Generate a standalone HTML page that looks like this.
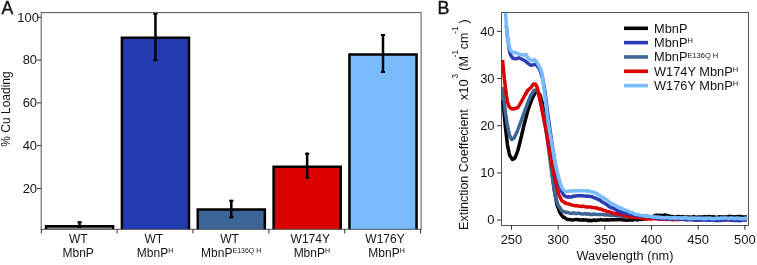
<!DOCTYPE html>
<html><head><meta charset="utf-8"><style>
html,body{margin:0;padding:0;background:#fff;}
svg{display:block;}
text{font-family:"Liberation Sans",sans-serif;font-size:12px;fill:#141414;}
</style></head><body>
<div style="will-change:transform;width:757px;height:265px"><svg width="757" height="265" viewBox="0 0 757 265">
<text x="1.4" y="13.5" style="font-size:17.6px;stroke:#1a1a1a;stroke-width:0.45">A</text>
<text x="437.6" y="13.8" style="font-size:17.8px;stroke:#1a1a1a;stroke-width:0.45">B</text>
<g>
<path d="M46.05,229.5 L46.05,226.15 L113.15,226.15 L113.15,229.5" fill="#8a8a8a" stroke="#000" stroke-width="2.5"/>
<line x1="79.60" y1="221.30" x2="79.60" y2="228.00" stroke="#000" stroke-width="2.5"/>
<line x1="77.50" y1="222.30" x2="81.70" y2="222.30" stroke="#000" stroke-width="2"/>
<line x1="77.50" y1="227.00" x2="81.70" y2="227.00" stroke="#000" stroke-width="2"/>
<path d="M121.90,229.5 L121.90,37.75 L189.00,37.75 L189.00,229.5" fill="#233BB0" stroke="#000" stroke-width="2.5"/>
<line x1="155.45" y1="12.90" x2="155.45" y2="61.10" stroke="#000" stroke-width="2.5"/>
<line x1="153.35" y1="13.90" x2="157.55" y2="13.90" stroke="#000" stroke-width="2"/>
<line x1="153.35" y1="60.10" x2="157.55" y2="60.10" stroke="#000" stroke-width="2"/>
<path d="M197.75,229.5 L197.75,209.55 L264.85,209.55 L264.85,229.5" fill="#3C6496" stroke="#000" stroke-width="2.5"/>
<line x1="231.30" y1="199.80" x2="231.30" y2="218.20" stroke="#000" stroke-width="2.5"/>
<line x1="229.20" y1="200.80" x2="233.40" y2="200.80" stroke="#000" stroke-width="2"/>
<line x1="229.20" y1="217.20" x2="233.40" y2="217.20" stroke="#000" stroke-width="2"/>
<path d="M273.60,229.5 L273.60,166.75 L340.70,166.75 L340.70,229.5" fill="#DA0000" stroke="#000" stroke-width="2.5"/>
<line x1="307.15" y1="152.70" x2="307.15" y2="178.70" stroke="#000" stroke-width="2.5"/>
<line x1="305.05" y1="153.70" x2="309.25" y2="153.70" stroke="#000" stroke-width="2"/>
<line x1="305.05" y1="177.70" x2="309.25" y2="177.70" stroke="#000" stroke-width="2"/>
<path d="M349.45,229.5 L349.45,54.55 L416.55,54.55 L416.55,229.5" fill="#78BCFF" stroke="#000" stroke-width="2.5"/>
<line x1="383.00" y1="34.00" x2="383.00" y2="73.00" stroke="#000" stroke-width="2.5"/>
<line x1="380.90" y1="35.00" x2="385.10" y2="35.00" stroke="#000" stroke-width="2"/>
<line x1="380.90" y1="72.00" x2="385.10" y2="72.00" stroke="#000" stroke-width="2"/>
</g>
<rect x="41.2" y="12.6" width="379.9" height="216.7" fill="none" stroke="#555" stroke-width="1"/>
<line x1="37" y1="188.50" x2="41" y2="188.50" stroke="#333" stroke-width="1"/>
<text x="37.1" y="192.80" text-anchor="end" style="font-size:13px">20</text>
<line x1="37" y1="145.70" x2="41" y2="145.70" stroke="#333" stroke-width="1"/>
<text x="37.1" y="150.00" text-anchor="end" style="font-size:13px">40</text>
<line x1="37" y1="102.90" x2="41" y2="102.90" stroke="#333" stroke-width="1"/>
<text x="37.1" y="107.20" text-anchor="end" style="font-size:13px">60</text>
<line x1="37" y1="60.10" x2="41" y2="60.10" stroke="#333" stroke-width="1"/>
<text x="37.1" y="64.40" text-anchor="end" style="font-size:13px">80</text>
<line x1="37" y1="17.30" x2="41" y2="17.30" stroke="#333" stroke-width="1"/>
<text x="39.0" y="21.60" text-anchor="end" style="font-size:13px">100</text>
<line x1="41.30" y1="229" x2="41.30" y2="233.5" stroke="#333" stroke-width="1"/>
<line x1="117.15" y1="229" x2="117.15" y2="233.5" stroke="#333" stroke-width="1"/>
<line x1="193.00" y1="229" x2="193.00" y2="233.5" stroke="#333" stroke-width="1"/>
<line x1="268.85" y1="229" x2="268.85" y2="233.5" stroke="#333" stroke-width="1"/>
<line x1="344.70" y1="229" x2="344.70" y2="233.5" stroke="#333" stroke-width="1"/>
<line x1="420.55" y1="229" x2="420.55" y2="233.5" stroke="#333" stroke-width="1"/>
<text x="78.3" y="243.1" text-anchor="middle">WT</text>
<text x="78.2" y="257.3" text-anchor="middle">MbnP</text>
<text x="153.75" y="243.1" text-anchor="middle">WT</text>
<text x="155" y="257.3" text-anchor="middle">MbnP<tspan font-size="7" dy="-4.4">H</tspan></text>
<text x="229.6" y="243.1" text-anchor="middle">WT</text>
<text x="231.2" y="257.3" text-anchor="middle">MbnP<tspan font-size="7" dy="-4.4">E136Q H</tspan></text>
<text x="310.25" y="243.1" text-anchor="middle">W174Y</text>
<text x="311.85" y="257.3" text-anchor="middle">MbnP<tspan font-size="7" dy="-4.4">H</tspan></text>
<text x="385.05" y="243.1" text-anchor="middle">W176Y</text>
<text x="386.5" y="257.3" text-anchor="middle">MbnP<tspan font-size="7" dy="-4.4">H</tspan></text>
<text transform="translate(10.2,109) rotate(-90)" text-anchor="middle">% Cu Loading</text>
<rect x="501.5" y="12.5" width="247" height="213" fill="none" stroke="#555" stroke-width="1"/>
<g>
<path d="M503.0,100.0 L504.0,112.0 L505.5,128.0 L507.5,145.0 L509.5,155.0 L512.5,159.5 L515.0,158.0 L518.0,150.0 L521.0,138.0 L524.0,125.0 L528.0,110.0 L532.0,99.0 L535.0,93.0 L537.5,91.5 L540.0,95.0 L542.0,102.0 L545.0,118.0 L548.0,138.0 L551.0,162.0 L554.0,188.0 L557.0,205.0 L560.0,213.0 L563.0,217.0 L564.5,217.5 L566.0,218.8 L568.0,219.5 L570.0,219.6 L571.7,220.0 L573.3,219.9 L575.0,219.6 L576.7,219.6 L578.3,219.7 L580.0,220.0 L581.7,220.0 L583.3,219.8 L585.0,220.1 L586.7,220.0 L588.3,220.7 L590.0,220.3 L591.5,220.7 L593.1,220.3 L594.6,220.0 L596.2,220.6 L597.7,220.0 L599.2,220.0 L600.8,219.6 L602.3,219.9 L603.8,220.0 L605.4,220.0 L606.9,219.7 L608.5,219.9 L610.0,219.9 L611.5,219.5 L613.1,219.7 L614.6,219.6 L616.2,219.8 L617.7,219.5 L619.2,219.5 L620.8,219.8 L622.3,219.7 L623.8,220.0 L625.4,220.0 L626.9,220.2 L628.5,220.1 L630.0,220.0 L631.5,220.1 L633.0,220.1 L634.5,219.6 L636.0,219.4 L637.5,219.9 L639.0,219.1 L640.5,219.5 L642.0,219.3 L643.5,218.7 L645.0,219.0 L646.7,218.7 L648.3,218.2 L650.0,217.4 L651.7,216.9 L653.3,216.4 L655.0,215.5 L656.7,215.1 L658.3,215.4 L660.0,215.3 L661.7,215.5 L663.3,215.4 L665.0,215.0 L666.7,215.6 L668.3,215.7 L670.0,216.4 L671.7,216.5 L673.3,216.8 L675.0,217.0 L676.6,216.8 L678.1,216.6 L679.7,216.7 L681.2,216.9 L682.8,216.6 L684.4,217.3 L685.9,217.1 L687.5,217.1 L689.1,217.1 L690.6,217.2 L692.2,217.0 L693.8,216.6 L695.3,217.3 L696.9,217.2 L698.4,217.0 L700.0,217.0 L701.5,217.0 L703.0,217.1 L704.5,216.6 L706.1,217.2 L707.6,216.7 L709.1,216.6 L710.6,216.7 L712.1,217.2 L713.6,216.7 L715.2,217.2 L716.7,217.4 L718.2,216.9 L719.7,216.8 L721.2,216.9 L722.7,217.1 L724.3,217.1 L725.8,217.0 L727.3,217.0 L728.8,216.5 L730.3,216.6 L731.8,216.6 L733.4,217.1 L734.9,216.7 L736.4,216.9 L737.9,216.4 L739.4,216.4 L740.9,216.6 L742.5,217.0 L744.0,217.0 L745.5,217.0 L747.0,216.8" fill="none" stroke="#000000" stroke-width="3.5" stroke-linejoin="round" stroke-linecap="butt"/>
<path d="M502.8,87.0 L504.0,100.0 L505.5,113.0 L507.5,126.0 L509.5,135.0 L511.7,139.5 L514.0,138.0 L517.0,132.0 L520.0,124.0 L524.0,113.0 L528.0,102.0 L531.0,95.0 L534.0,90.5 L536.0,90.0 L538.0,92.5 L540.0,99.0 L543.0,112.0 L546.0,130.0 L549.0,152.0 L552.0,175.0 L555.0,195.0 L558.0,205.0 L562.0,211.0 L564.0,211.6 L566.0,212.6 L567.6,212.3 L569.1,213.0 L570.7,213.2 L572.2,213.4 L573.8,212.8 L575.3,213.4 L576.9,213.4 L578.4,213.1 L580.0,213.5 L581.5,213.9 L583.1,214.1 L584.6,213.5 L586.2,214.2 L587.7,213.8 L589.2,214.0 L590.8,214.5 L592.3,214.5 L593.8,214.0 L595.4,214.3 L596.9,214.4 L598.5,214.4 L600.0,214.6 L601.7,214.4 L603.3,214.6 L605.0,215.1 L606.7,214.6 L608.3,215.1 L610.0,215.2 L611.7,215.3 L613.3,215.0 L615.0,215.4 L616.7,215.8 L618.3,215.9 L620.0,216.0 L621.7,215.7 L623.3,216.6 L625.0,216.5 L626.7,216.8 L628.3,216.1 L630.0,216.5 L631.5,216.3 L633.0,216.2 L634.5,216.9 L636.0,216.5 L637.5,216.4 L639.0,216.7 L640.5,217.2 L642.0,217.2 L643.5,216.7 L645.0,217.0 L646.5,216.7 L648.0,217.5 L649.5,217.2 L651.0,217.4 L652.5,216.9 L654.0,216.9 L655.5,217.5 L657.0,217.3 L658.5,217.1 L660.0,217.5 L661.5,217.9 L663.1,217.7 L664.6,217.9 L666.2,217.3 L667.7,218.0 L669.2,217.3 L670.8,218.1 L672.3,217.8 L673.8,217.7 L675.4,217.9 L676.9,218.3 L678.5,217.8 L680.0,217.7 L681.5,218.1 L683.1,217.8 L684.6,217.8 L686.2,217.8 L687.7,217.8 L689.2,218.0 L690.8,218.1 L692.3,218.1 L693.8,218.6 L695.4,218.2 L696.9,218.4 L698.5,218.2 L700.0,218.5 L701.5,218.4 L703.0,218.1 L704.5,218.3 L706.1,218.1 L707.6,218.7 L709.1,218.5 L710.6,218.2 L712.1,218.5 L713.6,218.9 L715.2,218.1 L716.7,218.8 L718.2,218.4 L719.7,218.5 L721.2,218.8 L722.7,218.4 L724.3,218.5 L725.8,218.7 L727.3,218.9 L728.8,218.4 L730.3,218.8 L731.8,218.7 L733.4,218.6 L734.9,218.4 L736.4,218.4 L737.9,218.1 L739.4,218.2 L740.9,218.1 L742.5,218.7 L744.0,218.3 L745.5,218.2 L747.0,218.5" fill="none" stroke="#3D6696" stroke-width="3.5" stroke-linejoin="round" stroke-linecap="butt"/>
<path d="M502.5,60.0 L503.5,70.0 L504.5,80.0 L505.5,88.0 L506.5,96.0 L507.5,102.0 L509.0,106.5 L511.0,108.5 L513.0,109.0 L515.0,108.5 L518.0,107.5 L520.0,104.0 L522.0,100.5 L525.0,95.0 L528.0,90.0 L531.0,87.5 L533.5,84.0 L535.5,84.0 L537.0,87.0 L539.0,95.0 L541.0,105.0 L543.5,118.0 L546.0,130.0 L549.0,148.0 L552.0,165.0 L556.0,183.0 L559.0,195.0 L562.0,201.0 L564.0,202.0 L566.0,203.5 L568.0,203.7 L570.0,204.5 L571.7,204.9 L573.3,205.4 L575.0,205.7 L576.7,205.6 L578.3,206.1 L580.0,206.2 L581.7,206.6 L583.3,206.1 L585.0,206.7 L586.7,207.0 L588.3,207.0 L590.0,206.9 L591.7,207.4 L593.3,207.5 L595.0,207.8 L596.7,207.9 L598.3,208.8 L600.0,208.9 L601.7,209.3 L603.3,210.2 L605.0,210.5 L606.7,211.5 L608.3,211.5 L610.0,212.2 L611.7,212.5 L613.3,213.4 L615.0,213.6 L616.7,213.4 L618.3,213.8 L620.0,214.5 L621.7,214.6 L623.3,215.6 L625.0,215.9 L626.7,215.6 L628.3,216.6 L630.0,216.7 L631.5,217.3 L633.0,217.2 L634.5,217.1 L636.0,217.5 L637.5,217.3 L639.0,217.3 L640.5,218.4 L642.0,218.3 L643.5,218.3 L645.0,218.5 L646.5,219.0 L648.0,218.6 L649.5,219.0 L651.0,219.1 L652.5,218.6 L654.0,218.7 L655.5,218.8 L657.0,218.8 L658.5,219.2 L660.0,219.2 L661.5,219.0 L663.1,219.2 L664.6,218.9 L666.2,219.6 L667.7,219.1 L669.2,219.3 L670.8,219.4 L672.3,219.7 L673.8,219.3 L675.4,219.7 L676.9,219.4 L678.5,219.4 L680.0,219.4 L681.5,219.0 L683.1,219.4 L684.6,219.2 L686.2,219.0 L687.7,219.7 L689.2,219.2 L690.8,219.5 L692.3,219.7 L693.8,219.6 L695.4,219.4 L696.9,219.6 L698.5,219.6 L700.0,219.6 L701.5,219.9 L703.0,219.2 L704.5,219.7 L706.1,219.4 L707.6,219.4 L709.1,219.8 L710.6,219.6 L712.1,219.7 L713.6,219.8 L715.2,220.0 L716.7,219.5 L718.2,219.7 L719.7,219.6 L721.2,219.6 L722.7,219.8 L724.3,219.6 L725.8,219.6 L727.3,219.6 L728.8,220.0 L730.3,219.8 L731.8,219.9 L733.4,220.0 L734.9,219.4 L736.4,219.7 L737.9,220.0 L739.4,219.9 L740.9,219.3 L742.5,219.3 L744.0,219.5 L745.5,219.2 L747.0,219.6" fill="none" stroke="#DA0000" stroke-width="3.5" stroke-linejoin="round" stroke-linecap="butt"/>
<path d="M506.3,25.0 L507.2,35.0 L508.4,43.0 L509.4,51.0 L510.8,55.5 L513.0,58.3 L516.0,58.8 L519.0,57.8 L522.0,59.3 L525.0,60.8 L528.0,63.4 L531.0,65.4 L534.0,64.6 L536.0,64.5 L539.0,68.0 L541.0,73.0 L543.0,80.0 L545.0,92.0 L547.0,108.0 L550.0,130.0 L553.0,150.0 L556.0,168.0 L559.0,182.0 L562.0,192.0 L564.0,195.5 L565.5,196.2 L567.0,197.0 L568.6,196.7 L570.2,197.0 L571.8,196.9 L573.4,196.0 L575.0,196.2 L576.7,195.8 L578.3,195.7 L580.0,195.8 L581.7,195.6 L583.3,195.9 L585.0,196.0 L586.7,196.2 L588.3,196.1 L590.0,196.5 L591.7,196.6 L593.3,197.4 L595.0,198.0 L596.7,198.6 L598.3,199.5 L600.0,200.1 L601.7,201.6 L603.3,202.5 L605.0,203.5 L606.7,204.6 L608.3,205.9 L610.0,206.9 L611.7,207.9 L613.3,208.1 L615.0,209.3 L616.7,210.4 L618.3,211.0 L620.0,211.5 L621.7,212.3 L623.3,212.8 L625.0,213.0 L626.7,213.3 L628.3,213.7 L630.0,214.2 L631.7,214.1 L633.3,214.9 L635.0,214.7 L636.7,215.0 L638.3,215.4 L640.0,216.0 L641.7,215.9 L643.3,216.2 L645.0,216.1 L646.7,216.2 L648.3,216.5 L650.0,217.0 L651.7,216.9 L653.3,217.4 L655.0,217.3 L656.7,218.3 L658.3,218.4 L660.0,218.5 L661.5,218.2 L663.1,218.4 L664.6,218.5 L666.2,218.6 L667.7,218.4 L669.2,219.2 L670.8,219.3 L672.3,218.9 L673.8,219.0 L675.4,218.7 L676.9,218.8 L678.5,219.1 L680.0,219.0 L681.5,219.6 L683.1,219.1 L684.6,219.0 L686.2,219.9 L687.7,219.6 L689.2,219.3 L690.8,219.7 L692.3,219.3 L693.8,219.8 L695.4,220.3 L696.9,220.2 L698.5,220.1 L700.0,220.0 L701.5,219.8 L703.0,219.9 L704.5,219.7 L706.1,220.3 L707.6,220.1 L709.1,220.3 L710.6,219.9 L712.1,219.8 L713.6,220.4 L715.2,220.5 L716.7,220.4 L718.2,220.4 L719.7,220.4 L721.2,220.4 L722.7,219.9 L724.3,220.2 L725.8,220.0 L727.3,219.8 L728.8,219.8 L730.3,220.0 L731.8,220.0 L733.4,220.4 L734.9,220.6 L736.4,220.2 L737.9,220.6 L739.4,220.7 L740.9,220.7 L742.5,220.1 L744.0,220.0 L745.5,220.0 L747.0,220.3" fill="none" stroke="#2A3DB5" stroke-width="3.5" stroke-linejoin="round" stroke-linecap="butt"/>
<path d="M505.6,13.0 L506.3,25.0 L507.2,35.0 L508.4,43.0 L510.2,50.0 L513.0,52.7 L515.0,52.4 L517.0,53.3 L519.0,54.2 L522.0,54.7 L524.0,55.0 L526.0,54.6 L528.0,58.0 L531.0,60.3 L533.0,60.5 L535.0,59.7 L537.0,62.5 L540.0,68.0 L542.0,73.0 L545.5,100.0 L548.5,125.0 L552.0,145.0 L555.0,162.0 L558.0,175.0 L560.2,183.0 L562.0,188.0 L564.0,190.5 L566.5,191.5 L568.2,191.2 L570.0,191.2 L571.7,190.8 L573.3,191.1 L575.0,190.9 L576.7,190.5 L578.3,190.9 L580.0,190.8 L581.7,190.7 L583.3,190.4 L585.0,190.8 L586.7,191.0 L588.3,190.8 L590.0,191.4 L591.7,191.9 L593.3,192.1 L595.0,193.0 L596.7,193.5 L598.3,194.7 L600.0,195.6 L601.7,197.0 L603.3,197.4 L605.0,198.8 L606.7,199.8 L608.3,201.3 L610.0,202.4 L611.7,203.7 L613.3,204.3 L615.0,205.2 L616.7,205.9 L618.3,207.3 L620.0,207.7 L621.7,208.1 L623.3,209.6 L625.0,210.0 L626.7,210.5 L628.3,211.1 L630.0,212.2 L631.8,212.4 L633.5,213.2 L635.2,214.2 L637.0,214.5 L638.6,214.6 L640.2,215.3 L641.8,215.6 L643.4,215.7 L645.0,216.2 L646.5,216.4 L648.0,216.0 L649.5,216.2 L651.0,216.4 L652.5,217.0 L654.0,216.9 L655.5,216.9 L657.0,217.2 L658.5,217.2 L660.0,217.4 L661.5,217.3 L663.1,217.8 L664.6,217.7 L666.2,217.4 L667.7,217.7 L669.2,217.7 L670.8,218.1 L672.3,218.0 L673.8,217.6 L675.4,218.3 L676.9,217.6 L678.5,217.9 L680.0,218.0 L681.5,218.3 L683.1,217.7 L684.6,218.1 L686.2,217.7 L687.7,218.3 L689.2,218.4 L690.8,218.2 L692.3,218.5 L693.8,218.0 L695.4,218.4 L696.9,218.3 L698.5,218.3 L700.0,218.3 L701.5,218.3 L703.0,218.6 L704.5,218.7 L706.1,218.3 L707.6,218.5 L709.1,217.9 L710.6,218.5 L712.1,218.5 L713.6,218.8 L715.2,218.6 L716.7,218.1 L718.2,218.2 L719.7,218.5 L721.2,217.9 L722.7,218.3 L724.3,218.1 L725.8,218.0 L727.3,218.0 L728.8,218.6 L730.3,218.0 L731.8,218.1 L733.4,218.3 L734.9,218.7 L736.4,218.0 L737.9,218.3 L739.4,218.4 L740.9,218.7 L742.5,218.7 L744.0,218.7 L745.5,218.2 L747.0,218.4" fill="none" stroke="#78BCFF" stroke-width="3.5" stroke-linejoin="round" stroke-linecap="butt"/>
</g>
<line x1="497" y1="220.10" x2="501.5" y2="220.10" stroke="#333" stroke-width="1"/>
<text x="494.6" y="224.40" text-anchor="end" style="font-size:13px">0</text>
<line x1="497" y1="172.92" x2="501.5" y2="172.92" stroke="#333" stroke-width="1"/>
<text x="494.6" y="177.22" text-anchor="end" style="font-size:13px">10</text>
<line x1="497" y1="125.75" x2="501.5" y2="125.75" stroke="#333" stroke-width="1"/>
<text x="494.6" y="130.05" text-anchor="end" style="font-size:13px">20</text>
<line x1="497" y1="78.57" x2="501.5" y2="78.57" stroke="#333" stroke-width="1"/>
<text x="494.6" y="82.87" text-anchor="end" style="font-size:13px">30</text>
<line x1="497" y1="31.40" x2="501.5" y2="31.40" stroke="#333" stroke-width="1"/>
<text x="494.6" y="35.70" text-anchor="end" style="font-size:13px">40</text>
<line x1="511.50" y1="225" x2="511.50" y2="229.7" stroke="#333" stroke-width="1"/>
<text x="511.50" y="244.2" text-anchor="middle" style="font-size:13px">250</text>
<line x1="558.16" y1="225" x2="558.16" y2="229.7" stroke="#333" stroke-width="1"/>
<text x="558.16" y="244.2" text-anchor="middle" style="font-size:13px">300</text>
<line x1="604.82" y1="225" x2="604.82" y2="229.7" stroke="#333" stroke-width="1"/>
<text x="604.82" y="244.2" text-anchor="middle" style="font-size:13px">350</text>
<line x1="651.48" y1="225" x2="651.48" y2="229.7" stroke="#333" stroke-width="1"/>
<text x="651.48" y="244.2" text-anchor="middle" style="font-size:13px">400</text>
<line x1="698.14" y1="225" x2="698.14" y2="229.7" stroke="#333" stroke-width="1"/>
<text x="698.14" y="244.2" text-anchor="middle" style="font-size:13px">450</text>
<line x1="744.80" y1="225" x2="744.80" y2="229.7" stroke="#333" stroke-width="1"/>
<text x="744.80" y="244.2" text-anchor="middle" style="font-size:13px">500</text>
<text x="625" y="260.4" text-anchor="middle" style="font-size:12.8px">Wavelength (nm)</text>
<text transform="translate(467.8,229.9) rotate(-90)" style="font-size:12.5px"><tspan x="0" y="0">Extinction Coeffecient</tspan><tspan x="129.6" y="0" style="font-size:13px">x10</tspan><tspan x="151.4" y="-9.6" font-size="8.2">3</tspan><tspan x="159.2" y="0">(M</tspan><tspan x="172.6" y="-9.6" font-size="8.2">-1</tspan><tspan x="180.6" y="0">cm</tspan><tspan x="196.2" y="-9.6" font-size="8.2">-1</tspan><tspan x="206.5" y="0">)</tspan></text>
<line x1="624" y1="28.30" x2="648" y2="28.30" stroke="#000000" stroke-width="3.6"/>
<text x="654" y="32.70" style="font-size:12.8px">MbnP</text>
<line x1="624" y1="42.63" x2="648" y2="42.63" stroke="#2A3DB5" stroke-width="3.6"/>
<text x="654" y="47.03" style="font-size:12.8px">MbnP<tspan font-size="7.5" dy="-3.8">H</tspan></text>
<line x1="624" y1="56.96" x2="648" y2="56.96" stroke="#3D6696" stroke-width="3.6"/>
<text x="654" y="61.36" style="font-size:12.8px">MbnP<tspan font-size="7.5" dy="-3.8">E136Q H</tspan></text>
<line x1="624" y1="71.29" x2="648" y2="71.29" stroke="#DA0000" stroke-width="3.6"/>
<text x="654" y="75.69" style="font-size:12.8px">W174Y MbnP<tspan font-size="7.5" dy="-3.8">H</tspan></text>
<line x1="624" y1="85.62" x2="648" y2="85.62" stroke="#78BCFF" stroke-width="3.6"/>
<text x="654" y="90.02" style="font-size:12.8px">W176Y MbnP<tspan font-size="7.5" dy="-3.8">H</tspan></text>
</svg></div>
</body></html>
